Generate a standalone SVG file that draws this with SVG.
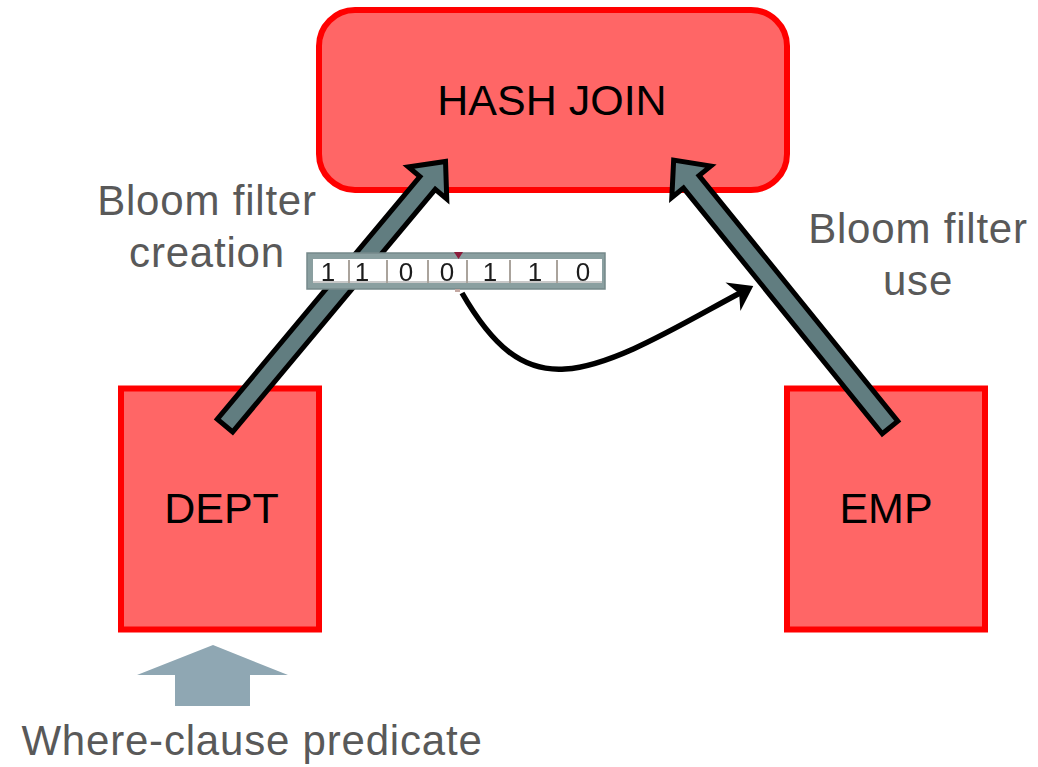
<svg xmlns="http://www.w3.org/2000/svg" width="1038" height="767" viewBox="0 0 1038 767">
  <style>
    .op { fill: #ff6666; stroke: #ff0000; stroke-width: 6; }
    .op-label { font-family: "Liberation Sans", Arial, sans-serif; font-size: 43px; fill: #000000; text-anchor: middle; }
    .note { font-family: "Liberation Sans", Arial, sans-serif; font-size: 42px; letter-spacing: 0.8px; fill: #595959; text-anchor: middle; }
    .flow { fill: #617d80; stroke: #000000; stroke-width: 5; stroke-linejoin: miter; stroke-miterlimit: 10; }
    .probe { fill: none; stroke: #000000; stroke-width: 5.5; }
    .bit { font-family: "Liberation Sans", Arial, sans-serif; font-size: 26px; fill: #1e1e1e; text-anchor: middle; }
    .cell-line { stroke: #aaa39c; stroke-width: 2; }
  </style>
  <defs>
    <!-- block arrow along +x, tail at origin, tip at x=344 -->
    <path id="block-arrow" d="M0,-10 L316,-10 L316,-25 L344,0 L316,25 L316,10 L0,10 Z"/>
    <marker id="probe-head" markerUnits="userSpaceOnUse" markerWidth="40" markerHeight="40" viewBox="-20 -20 40 40" refX="0" refY="0" orient="auto">
      <path d="M15,0 L-8,-16 L-1,0 L-8,16 Z" fill="#000000"/>
    </marker>
    <filter id="soft" x="-5%" y="-20%" width="110%" height="140%">
      <feGaussianBlur stdDeviation="0.7"/>
    </filter>
  </defs>

  <rect width="1038" height="767" fill="#ffffff"/>

  <!-- operators -->
  <g id="hash-join">
    <rect class="op" x="319" y="10" width="468" height="180" rx="36" ry="36"/>
    <text class="op-label" x="552" y="115">HASH JOIN</text>
  </g>
  <g id="dept">
    <rect class="op" x="121" y="388.5" width="198" height="241"/>
    <text class="op-label" x="221.5" y="523">DEPT</text>
  </g>
  <g id="emp">
    <rect class="op" x="787" y="388.5" width="198" height="241"/>
    <text class="op-label" x="886" y="523">EMP</text>
  </g>

  <!-- connectors -->
  <g id="connectors">
    <use href="#block-arrow" class="flow" transform="translate(225,425.5) rotate(-50.13)"/>
    <use href="#block-arrow" class="flow" transform="translate(890,427.5) rotate(-128.97)"/>
    <path class="probe" d="M462,293 C492,345 522,372 565,369 C615,366 685,322 740,293" marker-end="url(#probe-head)"/>
    <polygon points="213,645 288,675 250,675 250,706 175,706 175,675 137,675" fill="#8fa7b3"/>
  </g>

  <!-- bit vector -->
  <g id="bloom-filter" filter="url(#soft)">
    <rect x="307" y="253" width="298" height="36" fill="#8a9fa0" stroke="#75898a" stroke-width="1.5"/>
    <rect x="313" y="259" width="289" height="24" fill="#ffffff"/>
    <rect x="313" y="281" width="289" height="2" fill="#c9c9c9"/>
    <line class="cell-line" x1="349" y1="260" x2="349" y2="283"/>
    <line class="cell-line" x1="387" y1="260" x2="387" y2="283"/>
    <line class="cell-line" x1="428" y1="260" x2="428" y2="283"/>
    <line class="cell-line" x1="467" y1="260" x2="467" y2="283"/>
    <line class="cell-line" x1="510" y1="260" x2="510" y2="283"/>
    <line class="cell-line" x1="557" y1="260" x2="557" y2="283"/>
    <text class="bit" x="328" y="281">1</text>
    <text class="bit" x="362" y="281">1</text>
    <text class="bit" x="406" y="281">0</text>
    <text class="bit" x="447" y="281">0</text>
    <text class="bit" x="490" y="281">1</text>
    <text class="bit" x="535" y="281">1</text>
    <text class="bit" x="583" y="281">0</text>
    <polygon points="454,252 463,252 458.5,259" fill="#8b1a3a"/>
    <rect x="455" y="289" width="5" height="3" fill="#c4a8a2"/>
  </g>

  <!-- annotations -->
  <g id="creation-label">
    <text class="note" x="207" y="215">Bloom filter</text>
    <text class="note" x="207" y="267">creation</text>
  </g>
  <g id="use-label">
    <text class="note" x="918" y="243">Bloom filter</text>
    <text class="note" x="918" y="295">use</text>
  </g>
  <g id="predicate-label">
    <text class="note" x="252" y="755">Where-clause predicate</text>
  </g>
</svg>
